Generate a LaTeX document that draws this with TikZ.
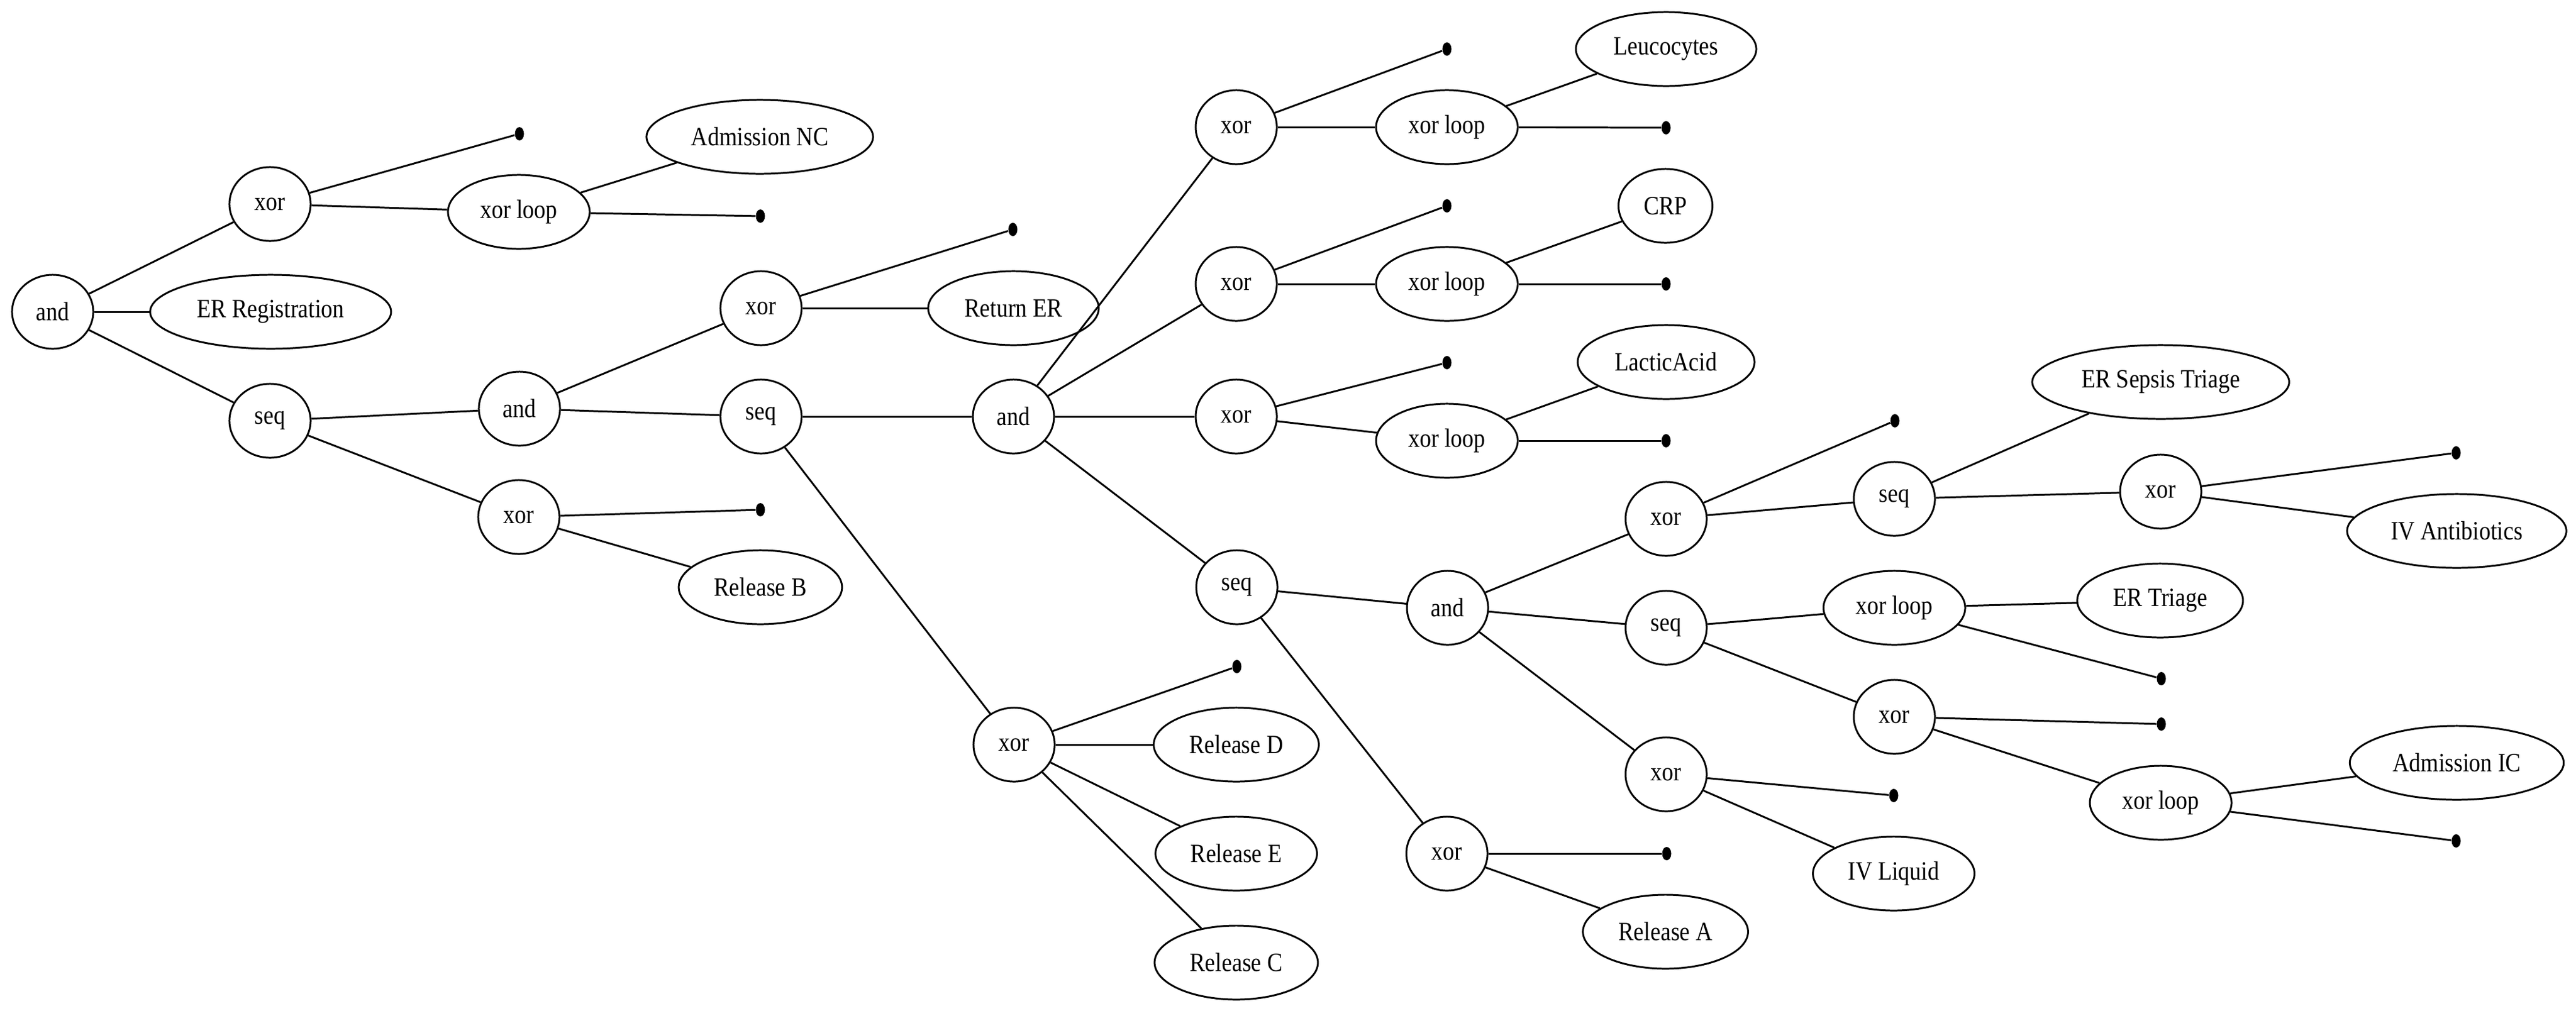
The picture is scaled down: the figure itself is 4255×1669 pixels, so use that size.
\documentclass[tikz,border=0pt]{standalone}
\usepackage{fontspec}
\setmainfont{Liberation Serif}[FakeStretch=0.87]
\usepackage{tikz}
\usetikzlibrary{shapes.geometric}
\newcommand{\treefont}{\fontsize{12.4pt}{14pt}\selectfont}
\tikzset{%
  op_node/.style={%
    ellipse,%
    draw=black,%
    line width=0.85pt,%
    minimum width=1.34cm,%
    minimum height=1.22cm,%
    inner xsep=0.19cm,%
    inner ysep=0.1cm,%
    font={\treefont},%
    align=center%
  },
  task_node/.style={%
    ellipse,%
    draw=black,%
    line width=0.85pt,%
    minimum height=1.22cm,%
    inner xsep=0.19cm,%
    inner ysep=0.1cm,%
    font={\treefont},%
    align=center%
  },
  tau_dot/.style={%
    ellipse,%
    fill=black,%
    inner sep=0pt,%
    minimum width=0.15cm,%
    minimum height=0.22cm%
  },
  tree_edge/.style={%
    draw=black,%
    line width=0.85pt%
  },
}
\begin{document}
\begin{tikzpicture}[x=0.01cm, y=-0.01cm]

    \fill [white] (0,0) rectangle (4255,1669);
    \useasboundingbox (0,0) rectangle (4255,1669);

    \node [op_node] (And1) at (87,515) {and};
    \node [op_node] (Xor1) at (446,337) {xor};
    \node [task_node] (ERRegistration) at (447,515) {ER Registration};
    \node [op_node] (Seq1) at (446,695) {seq};
    \node [tau_dot] (tau1) at (858,221) {};
    \node [op_node] (XorLoop1) at (857,350) {xor loop};
    \node [task_node] (AdmissionNC) at (1255,226) {Admission NC};
    \node [tau_dot] (tau2) at (1256,357) {};
    \node [op_node] (And2) at (858,675) {and};
    \node [op_node] (Xor3) at (857,854) {xor};
    \node [op_node] (Xor2) at (1257,509) {xor};
    \node [op_node] (Seq2) at (1257,688) {seq};
    \node [tau_dot] (tau3) at (1673,379) {};
    \node [task_node] (ReturnER) at (1674,509) {Return ER};
    \node [tau_dot] (tau4) at (1256,842) {};
    \node [task_node] (ReleaseB) at (1256,970) {Release B};
    \node [op_node] (And3) at (1674,688) {and};
    \node [op_node] (XorRel) at (1675,1230) {xor};
    \node [tau_dot] (tau5) at (2043,1101) {};
    \node [task_node] (ReleaseD) at (2042,1230) {Release D};
    \node [task_node] (ReleaseE) at (2042,1410) {Release E};
    \node [task_node] (ReleaseC) at (2042,1590) {Release C};

    \node [op_node] (Xor4) at (2042,210) {xor};
    \node [op_node] (Xor5) at (2042,469) {xor};
    \node [op_node] (Xor6) at (2042,688) {xor};
    \node [op_node] (Seq3) at (2043,970) {seq};
    \node [tau_dot] (tau6) at (2390,81) {};
    \node [op_node] (XorLoop4) at (2390,210) {xor loop};
    \node [task_node] (Leucocytes) at (2752,81) {Leucocytes};
    \node [tau_dot] (tau7) at (2752,211) {};
    \node [tau_dot] (tau8) at (2390,340) {};
    \node [op_node] (XorLoop5) at (2390,469) {xor loop};
    \node [task_node] (CRP) at (2751,340) {CRP};
    \node [tau_dot] (tau9) at (2752,469) {};
    \node [tau_dot] (tau10) at (2390,599) {};
    \node [op_node] (XorLoop6) at (2390,728) {xor loop};
    \node [task_node] (LacticAcid) at (2752,598) {LacticAcid};
    \node [tau_dot] (tau11) at (2752,728) {};

    \node [op_node] (And4) at (2391,1004) {and};
    \node [op_node] (Xor7) at (2390,1410) {xor};
    \node [tau_dot] (tau12) at (2753,1410) {};
    \node [task_node] (ReleaseA) at (2751,1539) {Release A};
    \node [op_node] (Xor8) at (2752,857) {xor};
    \node [op_node] (Seq4) at (2752,1037) {seq};
    \node [op_node] (Xor9) at (2752,1279) {xor};
    \node [tau_dot] (tau13) at (3130,695) {};
    \node [op_node] (Seq5) at (3129,824) {seq};
    \node [task_node] (ERSepsisTriage) at (3569,631) {ER Sepsis Triage};
    \node [op_node] (Xor10) at (3569,812) {xor};
    \node [tau_dot] (tau14) at (4057,748) {};
    \node [task_node] (IVAntibiotics) at (4058,877) {IV Antibiotics};
    \node [op_node] (XorLoop7) at (3129,1004) {xor loop};
    \node [op_node] (Xor11) at (3129,1184) {xor};
    \node [task_node] (ERTriage) at (3568,992) {ER Triage};
    \node [tau_dot] (tau15) at (3570,1121) {};
    \node [tau_dot] (tau16) at (3570,1196) {};
    \node [op_node] (XorLoop8) at (3569,1326) {xor loop};
    \node [task_node] (AdmissionIC) at (4058,1260) {Admission IC};
    \node [tau_dot] (tau17) at (4057,1389) {};
    \node [tau_dot] (tau18) at (3128,1314) {};
    \node [task_node] (IVLiquid) at (3128,1443) {IV Liquid};

    \draw [tree_edge] (And1) -- (Xor1);
    \draw [tree_edge] (And1) -- (ERRegistration);
    \draw [tree_edge] (And1) -- (Seq1);
    \draw [tree_edge] (Xor1) -- (tau1);
    \draw [tree_edge] (Xor1) -- (XorLoop1);
    \draw [tree_edge] (XorLoop1) -- (AdmissionNC);
    \draw [tree_edge] (XorLoop1) -- (tau2);
    \draw [tree_edge] (Seq1) -- (And2);
    \draw [tree_edge] (Seq1) -- (Xor3);
    \draw [tree_edge] (And2) -- (Xor2);
    \draw [tree_edge] (And2) -- (Seq2);
    \draw [tree_edge] (Xor2) -- (tau3);
    \draw [tree_edge] (Xor2) -- (ReturnER);
    \draw [tree_edge] (Xor3) -- (tau4);
    \draw [tree_edge] (Xor3) -- (ReleaseB);
    \draw [tree_edge] (Seq2) -- (And3);
    \draw [tree_edge] (Seq2) -- (XorRel);
    \draw [tree_edge] (XorRel) -- (tau5);
    \draw [tree_edge] (XorRel) -- (ReleaseD);
    \draw [tree_edge] (XorRel) -- (ReleaseE);
    \draw [tree_edge] (XorRel) -- (ReleaseC);
    \draw [tree_edge] (And3) -- (Xor4);
    \draw [tree_edge] (And3) -- (Xor5);
    \draw [tree_edge] (And3) -- (Xor6);
    \draw [tree_edge] (And3) -- (Seq3);
    \draw [tree_edge] (Xor4) -- (tau6);
    \draw [tree_edge] (Xor4) -- (XorLoop4);
    \draw [tree_edge] (XorLoop4) -- (Leucocytes);
    \draw [tree_edge] (XorLoop4) -- (tau7);
    \draw [tree_edge] (Xor5) -- (tau8);
    \draw [tree_edge] (Xor5) -- (XorLoop5);
    \draw [tree_edge] (XorLoop5) -- (CRP);
    \draw [tree_edge] (XorLoop5) -- (tau9);
    \draw [tree_edge] (Xor6) -- (tau10);
    \draw [tree_edge] (Xor6) -- (XorLoop6);
    \draw [tree_edge] (XorLoop6) -- (LacticAcid);
    \draw [tree_edge] (XorLoop6) -- (tau11);
    \draw [tree_edge] (Seq3) -- (And4);
    \draw [tree_edge] (Seq3) -- (Xor7);
    \draw [tree_edge] (Xor7) -- (tau12);
    \draw [tree_edge] (Xor7) -- (ReleaseA);
    \draw [tree_edge] (And4) -- (Xor8);
    \draw [tree_edge] (And4) -- (Seq4);
    \draw [tree_edge] (And4) -- (Xor9);
    \draw [tree_edge] (Xor8) -- (tau13);
    \draw [tree_edge] (Xor8) -- (Seq5);
    \draw [tree_edge] (Seq5) -- (ERSepsisTriage);
    \draw [tree_edge] (Seq5) -- (Xor10);
    \draw [tree_edge] (Xor10) -- (tau14);
    \draw [tree_edge] (Xor10) -- (IVAntibiotics);
    \draw [tree_edge] (Seq4) -- (XorLoop7);
    \draw [tree_edge] (Seq4) -- (Xor11);
    \draw [tree_edge] (XorLoop7) -- (ERTriage);
    \draw [tree_edge] (XorLoop7) -- (tau15);
    \draw [tree_edge] (Xor11) -- (tau16);
    \draw [tree_edge] (Xor11) -- (XorLoop8);
    \draw [tree_edge] (XorLoop8) -- (AdmissionIC);
    \draw [tree_edge] (XorLoop8) -- (tau17);
    \draw [tree_edge] (Xor9) -- (tau18);
    \draw [tree_edge] (Xor9) -- (IVLiquid);
  \end{tikzpicture}
\end{document}
